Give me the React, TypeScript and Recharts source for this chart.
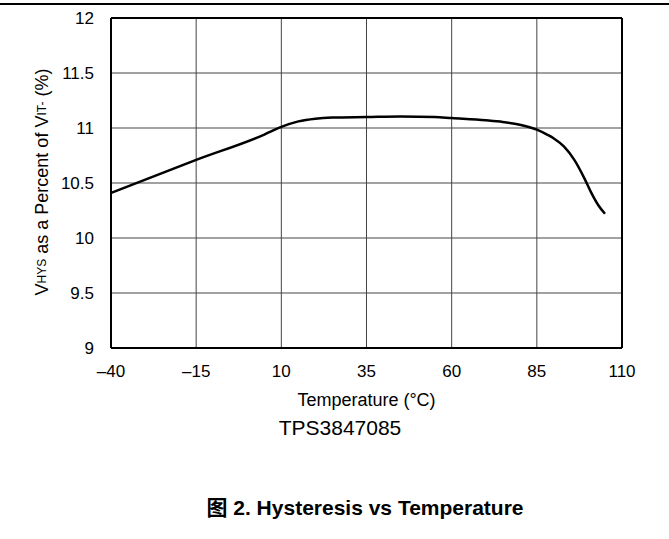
import React from 'react';
import { LineChart, Line, XAxis, YAxis, CartesianGrid, ReferenceLine, Label } from 'recharts';

const temps = [-40, -15, 5, 10, 15, 20, 25, 35, 45, 55, 60, 70, 75, 80, 85, 88, 90, 93, 96, 99, 101, 103, 105];
const hysteresis = [10.41, 10.71, 10.94, 11.01, 11.06, 11.085, 11.095, 11.1, 11.105, 11.1, 11.09, 11.07, 11.055, 11.03, 10.985, 10.94, 10.905, 10.83, 10.71, 10.54, 10.41, 10.3, 10.22];
const xTicks = [-40, -15, 10, 35, 60, 85, 110];
const yTicks = [9, 9.5, 10, 10.5, 11, 11.5, 12];

const data = temps.map((t, i) => ({ t, v: hysteresis[i] }));

const FONT = "'Liberation Sans', Arial, 'Noto Sans CJK SC', sans-serif";

function YLabel() {
  return (
    <text
      x={42}
      y={182}
      transform="rotate(-90, 42, 182)"
      textAnchor="middle"
      dominantBaseline="central"
      fontSize={18}
      fontFamily={FONT}
      fill="#000"
    >
      <tspan>V</tspan>
      <tspan fontSize={12}>HYS</tspan>
      <tspan> as a Percent of V</tspan>
      <tspan fontSize={12}>IT-</tspan>
      <tspan> (%)</tspan>
    </text>
  );
}

export default function App() {
  return (
    <div style={{ position: 'absolute', left: 0, top: 0, width: 669, height: 539, background: '#fff', fontFamily: FONT }}>
      <div style={{ position: 'absolute', left: 0, top: 3, width: 669, height: 2, background: '#000' }} />
      <LineChart width={669} height={539} data={data} margin={{ top: 18, right: 47, bottom: 131, left: 0 }}>
        <CartesianGrid stroke="#444" strokeWidth={1} />
        <XAxis
          dataKey="t"
          type="number"
          domain={[-40, 110]}
          ticks={xTicks}
          tickFormatter={(v: number) => String(v).replace('-', '\u2013')}
          tickLine={false}
          tickSize={6}
          tickMargin={11}
          axisLine={{ stroke: '#000', strokeWidth: 2 }}
          tick={{ fill: '#000', fontSize: 17, fontFamily: FONT }}
          height={60}
          interval={0}
        >
          <Label value="Temperature (°C)" position="insideTop" offset={45} fill="#000" fontSize={18} fontFamily={FONT} />
        </XAxis>
        <YAxis
          type="number"
          domain={[9, 12]}
          ticks={yTicks}
          tickLine={false}
          tickSize={6}
          tickMargin={11}
          width={111}
          axisLine={{ stroke: '#000', strokeWidth: 2 }}
          tick={{ fill: '#000', fontSize: 17, fontFamily: FONT }}
          interval={0}
        >
          <Label content={() => <YLabel />} />
        </YAxis>
        <ReferenceLine y={12} stroke="#000" strokeWidth={2} />
        <ReferenceLine x={110} stroke="#000" strokeWidth={2} />
        <Line
          type="monotone"
          dataKey="v"
          stroke="#000"
          strokeWidth={2.5}
          dot={false}
          isAnimationActive={false}
        />
      </LineChart>
      <div style={{ position: 'absolute', left: 0, width: 680, top: 416, lineHeight: '24px', textAlign: 'center', fontSize: 21, color: '#000' }}>
        TPS3847085
      </div>
      <div style={{ position: 'absolute', left: 0, width: 730, top: 496, lineHeight: '24px', textAlign: 'center', fontSize: 21, fontWeight: 'bold', color: '#000' }}>
        图 2. Hysteresis vs Temperature
      </div>
    </div>
  );
}
